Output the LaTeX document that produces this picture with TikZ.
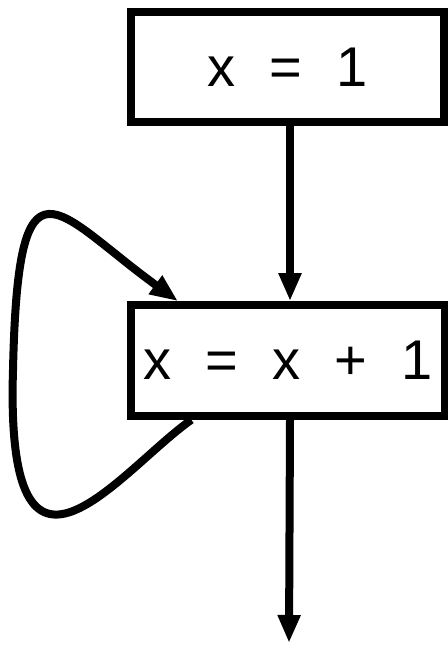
\documentclass[tikz,border=0pt]{standalone}
\usepackage{fontspec}
\setmainfont{Liberation Sans}[WordSpace=2.2]
\usetikzlibrary{arrows.meta,calc}

\tikzset{
    stmt/.style={draw, line width=6pt, minimum width=235pt, minimum height=83pt,
                 inner sep=0pt, font=\fontsize{42}{42}\selectfont},
    flow/.style={line width=6pt, -{Triangle[length=21pt,width=16pt]}}
}

\begin{document}
\begin{tikzpicture}[x=0.75pt, y=-0.75pt]

\useasboundingbox (0,0) rectangle (448,645);

\node[stmt] (init) at (287.5,67) {x = 1};
\node[stmt] (incr) at (288,360.5) {x = x + 1};
\coordinate (exit) at (289,643);

\draw[flow] (init.south -| 290,0) -- (incr.north -| 290,0);
\draw[flow] (incr.south -| 290,0) -- (exit);

% back edge round the left side
\draw[flow] ([xshift=48pt]incr.south west)
    .. controls (120,470) and (5,630) .. (13,370)
    .. controls (18,140) and (55,212) .. ([xshift=38pt]incr.north west);

\end{tikzpicture}
\end{document}
